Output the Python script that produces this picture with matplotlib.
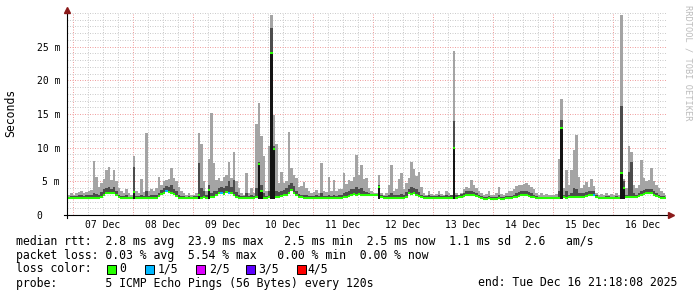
import numpy as np
import matplotlib.pyplot as plt
from matplotlib.patches import Rectangle
from matplotlib.ticker import MultipleLocator, FuncFormatter

# hourly bins, hour 0 = 07 Dec 00:00 ; first bin starts 06 Dec 22:00
first_hour = -2
end_hour = 237.3  # Tue Dec 16 21:18

# median rtt per hour (ms)
median_ms = [
    2.5, 2.5,
    2.5, 2.5, 2.5, 2.5, 2.5, 2.5, 2.5, 2.5, 2.5, 2.5, 2.5, 2.7, 3.0, 3.2, 3.3, 3.2, 3.3, 3.0, 2.7, 2.5, 2.5, 2.5, 2.5, 2.5,
    3.4, 2.5, 2.5, 2.5, 2.5, 2.5, 2.5, 2.5, 2.5, 2.5, 2.8, 3.1, 3.3, 3.5, 3.4, 3.3, 3.1, 2.8, 2.5, 2.5, 2.5, 2.5, 2.5, 2.5,
    2.5, 2.5, 3.0, 2.5, 2.6, 2.5, 3.7, 2.6, 2.7, 3.0, 3.2, 3.3, 3.1, 3.4, 3.2, 3.3, 3.0, 2.7, 2.5, 2.5, 2.5, 2.5, 2.5, 2.5,
    2.5, 2.6, 7.6, 3.6, 2.5, 2.5, 2.6, 24.0, 9.8, 2.6, 2.7, 2.8, 2.9, 3.0, 3.2, 3.7, 3.3, 2.9, 2.7, 2.6, 2.5, 2.5, 2.5, 2.5,
    2.5, 2.5, 2.5, 2.5, 2.5, 2.5, 2.5, 2.5, 2.5, 2.5, 2.5, 2.5, 2.6, 2.7, 2.8, 3.0, 3.1, 3.0, 3.1, 3.0, 2.9, 2.9, 2.9, 2.9,
    2.9, 2.9, 4.1, 2.6, 2.5, 2.5, 2.5, 2.5, 2.5, 2.5, 2.5, 2.5, 2.5, 2.7, 3.2, 3.1, 3.2, 3.0, 2.8, 2.6, 2.5, 2.5, 2.5, 2.5,
    2.5, 2.5, 2.5, 2.5, 2.5, 2.5, 2.5, 2.5, 10.0, 2.5, 2.6, 2.7, 2.8, 2.9, 3.0, 3.0, 2.9, 2.8, 2.6, 2.5, 2.4, 2.4, 2.5, 2.4,
    2.4, 2.4, 2.5, 2.4, 2.4, 2.5, 2.5, 2.5, 2.6, 2.7, 2.8, 2.9, 3.0, 2.9, 2.8, 2.7, 2.6, 2.5, 2.5, 2.5, 2.5, 2.5, 2.5, 2.5,
    2.5, 2.5, 2.5, 12.9, 2.6, 2.5, 2.6, 2.6, 2.7, 2.6, 2.7, 2.7, 2.6, 2.8, 2.9, 3.0, 2.9, 2.6, 2.5, 2.5, 2.5, 2.5, 2.5, 2.5,
    2.5, 2.5, 2.5, 6.2, 4.0, 2.6, 2.6, 2.7, 2.6, 2.6, 2.8, 3.0, 3.1, 3.2, 3.3, 3.2, 3.0, 2.8, 2.6, 2.5, 2.5, 2.5,
]

# upper inner smoke (dense part) per hour (ms)
upper_ms = [
    2.7, 2.8,
    2.8, 2.8, 2.9, 3.0, 2.8, 2.9, 2.9, 3.0, 3.2, 3.1, 3.0, 3.4, 3.8, 4.0, 4.2, 3.9, 4.1, 3.6, 3.0, 2.8, 2.8, 2.9, 2.7, 2.7,
    7.2, 2.8, 2.8, 3.0, 2.8, 3.6, 2.8, 2.9, 2.9, 3.0, 3.3, 3.7, 4.0, 4.3, 4.2, 4.4, 3.9, 3.5, 3.0, 2.8, 2.8, 2.7, 2.8, 2.7,
    2.8, 2.8, 7.7, 4.0, 3.5, 2.9, 4.5, 3.2, 3.5, 3.6, 4.0, 4.2, 4.0, 4.3, 5.0, 4.2, 5.2, 3.4, 3.0, 2.8, 2.8, 3.2, 2.8, 3.0,
    2.8, 4.0, 7.9, 4.5, 3.2, 2.8, 3.5, 27.7, 10.2, 3.5, 3.4, 3.6, 3.7, 4.0, 4.5, 4.8, 4.3, 3.6, 3.1, 3.0, 3.0, 2.9, 2.8, 2.8,
    2.8, 2.9, 2.8, 3.2, 2.8, 2.8, 3.0, 2.8, 3.0, 2.8, 2.9, 2.9, 3.2, 3.4, 3.6, 3.8, 3.9, 4.2, 3.9, 4.0, 3.6, 3.4, 3.2, 3.1,
    3.1, 3.1, 4.4, 2.9, 2.8, 2.8, 3.0, 3.2, 2.9, 2.9, 3.0, 3.1, 2.9, 3.4, 3.8, 4.2, 4.0, 3.8, 3.4, 3.0, 2.8, 2.8, 2.9, 2.8,
    2.8, 2.8, 2.9, 2.8, 2.8, 2.9, 2.8, 2.9, 14.0, 2.9, 3.0, 3.1, 3.3, 3.5, 3.6, 3.6, 3.4, 3.2, 3.0, 2.8, 2.7, 2.7, 2.8, 2.7,
    2.7, 2.7, 2.9, 2.7, 2.7, 2.8, 2.8, 2.8, 3.0, 3.2, 3.4, 3.5, 3.6, 3.6, 3.4, 3.2, 3.0, 2.8, 2.7, 2.7, 2.7, 2.7, 2.7, 2.7,
    2.7, 2.7, 3.5, 14.1, 3.0, 3.5, 3.0, 3.3, 4.0, 3.8, 3.3, 3.2, 3.2, 3.4, 3.5, 3.6, 3.5, 3.0, 2.7, 2.7, 2.7, 2.8, 2.8, 2.7,
    2.7, 2.8, 2.7, 16.2, 5.0, 3.0, 6.4, 7.9, 3.2, 3.0, 3.3, 3.6, 3.7, 3.8, 3.9, 3.8, 3.6, 3.3, 3.0, 2.8, 2.8, 2.7,
]

# slowest ping per hour (ms)
max_ms = [
    3.0, 3.2,
    3.0, 3.2, 3.4, 3.6, 3.3, 3.4, 3.5, 3.7, 8.0, 5.7, 4.2, 4.8, 5.3, 6.7, 7.1, 5.2, 6.7, 5.0, 4.0, 3.5, 3.3, 3.8, 3.2, 3.0,
    8.8, 3.5, 3.2, 5.3, 3.4, 12.2, 3.5, 3.8, 3.6, 4.0, 5.7, 4.5, 5.0, 5.2, 5.3, 7.0, 5.5, 5.0, 4.2, 3.6, 3.2, 3.0, 3.3, 3.0,
    3.0, 3.2, 12.2, 10.6, 5.0, 3.5, 8.3, 15.1, 7.7, 5.2, 5.5, 5.0, 5.7, 6.0, 7.9, 5.5, 9.4, 5.0, 4.0, 3.3, 3.0, 6.2, 3.3, 4.0,
    3.3, 13.5, 16.6, 11.8, 8.7, 3.6, 10.2, 29.7, 14.9, 10.6, 4.7, 6.4, 4.8, 5.0, 12.3, 7.0, 6.0, 5.5, 4.2, 4.3, 4.9, 4.0, 3.6, 3.3,
    3.4, 3.7, 3.3, 7.7, 3.5, 3.4, 5.7, 3.6, 5.2, 3.5, 3.8, 3.9, 6.2, 4.6, 5.2, 5.0, 5.6, 8.9, 6.0, 7.4, 5.3, 5.5, 4.0, 3.5,
    3.2, 3.3, 5.9, 3.3, 3.0, 3.2, 4.5, 7.4, 3.6, 3.8, 5.4, 6.2, 3.8, 4.8, 5.5, 7.9, 6.9, 5.8, 6.4, 4.2, 3.3, 3.0, 3.6, 3.1,
    3.0, 3.1, 3.6, 3.1, 3.0, 3.6, 3.2, 3.0, 24.3, 3.2, 3.0, 3.3, 3.8, 4.1, 4.0, 5.2, 4.4, 4.0, 3.6, 3.2, 3.0, 3.1, 3.6, 3.0,
    3.0, 3.3, 4.2, 3.1, 3.0, 3.3, 3.6, 3.5, 3.8, 4.3, 4.5, 4.4, 4.6, 4.8, 4.5, 4.2, 3.8, 3.3, 3.0, 3.2, 3.0, 3.1, 3.0, 2.9,
    3.0, 3.1, 8.3, 17.2, 4.0, 6.7, 4.5, 6.7, 9.7, 11.9, 5.7, 4.0, 4.5, 4.9, 4.2, 5.4, 4.3, 3.2, 3.0, 3.1, 3.0, 3.3, 3.0, 3.1,
    3.0, 3.2, 3.0, 29.7, 5.4, 4.0, 10.2, 9.4, 4.5, 4.0, 4.5, 8.2, 5.5, 5.0, 5.2, 7.0, 5.0, 4.5, 4.0, 3.5, 3.3, 3.0,
]

# hours with 1/5 packet loss
loss_hours = [37, 59, 62, 208]
# hours where the dense smoke reaches down to the fastest ping
spike_hours = [24, 50, 54, 74, 75, 79, 80, 122, 152, 195, 219, 220]
min_ping_ms = 2.4

day_labels = ["07 Dec", "08 Dec", "09 Dec", "10 Dec", "11 Dec",
              "12 Dec", "13 Dec", "14 Dec", "15 Dec", "16 Dec"]
loss_labels = ["0", "1/5", "2/5", "3/5", "4/5"]
loss_colors = ["#26ff00", "#00b8ff", "#dd00ff", "#5e00ff", "#ff0000"]

W, H = 697, 297
MONO = "DejaVu Sans Mono"

median = np.array(median_ms)
upper = np.array(upper_ms)
top = np.array(max_ms)
edges = first_hour + np.arange(len(median) + 1, dtype=float)
edges[-1] = min(edges[-1], end_hour)
hours = edges[:-1]
is_spike = np.isin(hours.astype(int), spike_hours)

fig = plt.figure(figsize=(W / 100, H / 100), dpi=100, facecolor="white")
ax = fig.add_axes([67 / W, (H - 215) / H, 600 / W, 202 / H])

# smoke
ax.stairs(top, edges, baseline=median, fill=True, color="#a4a4a4", lw=0, zorder=2)
ax.stairs(upper, edges, baseline=median, fill=True, color="#4c4c4c", lw=0, zorder=3)
ax.stairs(np.where(is_spike, median, min_ping_ms), edges, baseline=min_ping_ms,
          fill=True, color="#141414", lw=0, zorder=3)

# median line, coloured by loss
colors = [loss_colors[1] if int(h) in loss_hours else loss_colors[0] for h in hours]
ax.hlines(median, edges[:-1], edges[1:], colors=colors, lw=1.5, zorder=4)

ax.set_xlim(-2.4, 237.7)
ax.set_ylim(0, 30)

ax.xaxis.set_major_locator(MultipleLocator(24))
ax.xaxis.set_minor_locator(MultipleLocator(6))
ax.xaxis.set_major_formatter(FuncFormatter(lambda v, p: ""))
ax.xaxis.set_minor_formatter(FuncFormatter(
    lambda v, p: day_labels[int(v // 24)] if v % 24 == 12 and 0 <= v // 24 < len(day_labels) else ""))
ax.set_yticks([0, 5, 10, 15, 20, 25])
ax.set_yticklabels(["0   ", "5 m", "10 m", "15 m", "20 m", "25 m"])
ax.yaxis.set_minor_locator(MultipleLocator(1))

ax.tick_params(which="both", length=0, labelsize=7, labelcolor="black")
ax.tick_params(axis="x", which="both", pad=3.5)
ax.tick_params(axis="y", pad=5)
for lab in ax.get_xticklabels(minor=True) + ax.get_yticklabels():
    lab.set_family(MONO)

ax.grid(which="minor", color="#cccccc", lw=0.72, ls=(0, (1, 1.5)), zorder=0)
ax.grid(which="major", color="#f0a0a0", lw=0.72, ls=(0, (1, 1.5)), zorder=1)
ax.set_axisbelow(True)
for s in ax.spines.values():
    s.set_visible(False)

# axes with arrows
ax.plot([-3 / 600, 602 / 600], [0, 0], transform=ax.transAxes, color="black",
        lw=0.8, clip_on=False, zorder=5)
ax.plot([0, 0], [-3 / 202, 204 / 202], transform=ax.transAxes, color="black",
        lw=0.8, clip_on=False, zorder=5)
ax.plot([604 / 600], [0], transform=ax.transAxes, marker=">", ms=4,
        color="#8b1a1a", clip_on=False, zorder=6)
ax.plot([0], [205 / 202], transform=ax.transAxes, marker="^", ms=4,
        color="#8b1a1a", clip_on=False, zorder=6)

fig.text(11 / W, 1 - 113 / H, "Seconds", rotation=90, ha="center", va="center",
         family=MONO, fontsize=8.3)
fig.text(688 / W, 1 - 5 / H, "RRDTOOL / TOBI OETIKER", rotation=270, ha="center",
         va="top", family=MONO, fontsize=6.2, color="#bcbcbc")

# legend
def line(y, s, x=16):
    fig.text(x / W, 1 - y / H, s, ha="left", va="center", family=MONO, fontsize=8.3)

line(241, "median rtt:  2.8 ms avg  23.9 ms max   2.5 ms min  2.5 ms now  1.1 ms sd  2.6   am/s")
line(255, "packet loss: 0.03 % avg  5.54 % max   0.00 % min  0.00 % now")
line(269, "loss color:")
box_x = [107, 145, 196, 246, 297]
lab_x = [119, 158, 209, 258, 307]
for bx, lx, c, lab in zip(box_x, lab_x, loss_colors, loss_labels):
    fig.add_artist(Rectangle((bx / W, 1 - 273.5 / H), 8.5 / W, 8.5 / H,
                             transform=fig.transFigure, facecolor=c,
                             edgecolor="black", lw=0.7))
    line(269, lab, x=lx)
line(283, "probe:       5 ICMP Echo Pings (56 Bytes) every 120s")
line(283, "end: Tue Dec 16 21:18:08 2025", x=478)

fig.savefig("out.png", dpi=100, facecolor="white")
